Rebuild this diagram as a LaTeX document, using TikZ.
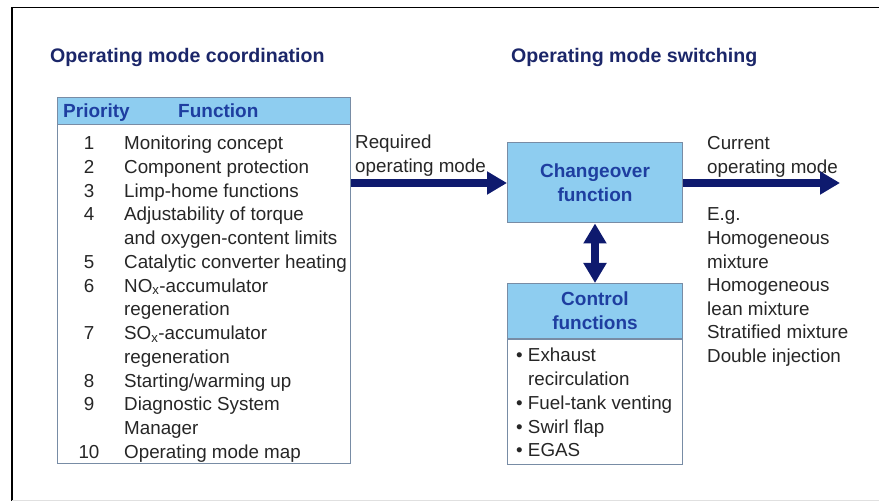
\documentclass[tikz,border=0pt]{standalone}
\usepackage{fontspec}
\setmainfont{Liberation Sans}
\usetikzlibrary{arrows.meta, positioning}
\definecolor{modenavy}{RGB}{27, 38, 105}
\definecolor{modeblue}{RGB}{30, 62, 160}
\definecolor{boxblue}{RGB}{142, 205, 240}
\definecolor{boxedge}{RGB}{120, 140, 165}
\definecolor{arrownavy}{RGB}{14, 26, 110}

\begin{document}
\begin{tikzpicture}[x=1pt, y=-1pt,
	title/.style={font=\fontsize{19.6}{23}\selectfont\bfseries, text=modenavy, anchor=base west, inner sep=0pt},
	plain/.style={font=\fontsize{18.8}{23.75}\selectfont, text=black!85, anchor=base west, inner sep=0pt},
	num/.style={font=\fontsize{18.8}{23.75}\selectfont, text=black!85, anchor=base, inner sep=0pt},
	headtext/.style={font=\fontsize{19}{24}\selectfont\bfseries, text=modeblue},
	bluebox/.style={draw=boxedge, line width=1pt, fill=boxblue, minimum width=175pt, inner sep=0pt},
	whitebox/.style={draw=boxedge, line width=1pt, fill=white, minimum width=175pt, inner sep=0pt},
	fat/.style={draw=arrownavy, line width=8pt, -{Triangle[width=22pt,length=20pt]}},
	fatboth/.style={draw=arrownavy, line width=8pt, {Triangle[width=22pt,length=20pt]}-{Triangle[width=22pt,length=20pt]}}
]
	\useasboundingbox (0,0) rectangle (879,502);
	\draw[line width=1.5pt] (12,501) -- (12,7.5) -- (879,7.5);
	\draw[black!12] (12,500.5) -- (879,500.5);

	\node[title] (lefttitle) at (50,63) {Operating mode coordination};
	\node[title] (righttitle) at (511,63) {Operating mode switching};

	% priority table
	\node[whitebox, minimum width=293pt, minimum height=366pt, anchor=north west] (tab) at (57,97) {};
	\node[bluebox, minimum width=293pt, minimum height=27pt, anchor=north west] (tabhead) at (57,97) {};
	\node[headtext, anchor=base west, inner sep=0pt] (prio) at (63,118) {Priority};
	\node[headtext, anchor=base west, inner sep=0pt] (func) at (178,118) {Function};
	\foreach \n/\k in {1/0,2/1,3/2,4/3,5/5,6/6,7/8,8/10,9/11,10/13}
		\node[num] (num\n) at (89,149.7+23.75*\k) {\n};
	\foreach \t [count=\k from 0] in {Monitoring concept, Component protection, Limp-home functions,
		Adjustability of torque, and oxygen-content limits, Catalytic converter heating,
		NO\textsubscript{x}-accumulator, regeneration, SO\textsubscript{x}-accumulator, regeneration,
		{Starting/warming up}, Diagnostic System, Manager, Operating mode map}
		\node[plain] (fn\k) at (124,149.7+23.75*\k) {\t};

	% switching boxes
	\node[bluebox, headtext, minimum height=80pt, align=center] (chg) at (595,183) {Changeover\\function};
	\node[bluebox, headtext, minimum height=55pt, align=center, anchor=north] (ctl) at (595,283) {Control\\functions};
	\node[whitebox, minimum height=125pt, below=0pt of ctl] (ctlbody) {};
	\foreach \t/\xx/\yy [count=\i] in {\textbullet\ Exhaust/516/355, recirculation/528/378.5,
		\textbullet\ Fuel-tank venting/516/403, \textbullet\ Swirl flap/516/427, \textbullet\ EGAS/516/450}
		\node[plain] (ctl\i) at (\xx,\yy+6.7) {\t};

	% labels
	\node[plain] (req1) at (355,148.7) {Required};
	\node[plain] (req2) at (355,172.2) {operating mode};
	\foreach \t/\yy [count=\i] in {Current/143, operating mode/166.5, E.g./214, Homogeneous/238,
		mixture/261.5, Homogeneous/285, lean mixture/308.5, Stratified mixture/332, Double injection/355.5}
		\node[plain] (cur\i) at (707,\yy+6.7) {\t};

	% arrows
	\coordinate (modeout) at (840,183);
	\draw[fat] (chg.west -| tab.east) -- (chg.west);
	\draw[fat] (chg.east) -- (modeout);
	\draw[fatboth] (chg.south) -- (ctl.north);
\end{tikzpicture}
\end{document}
